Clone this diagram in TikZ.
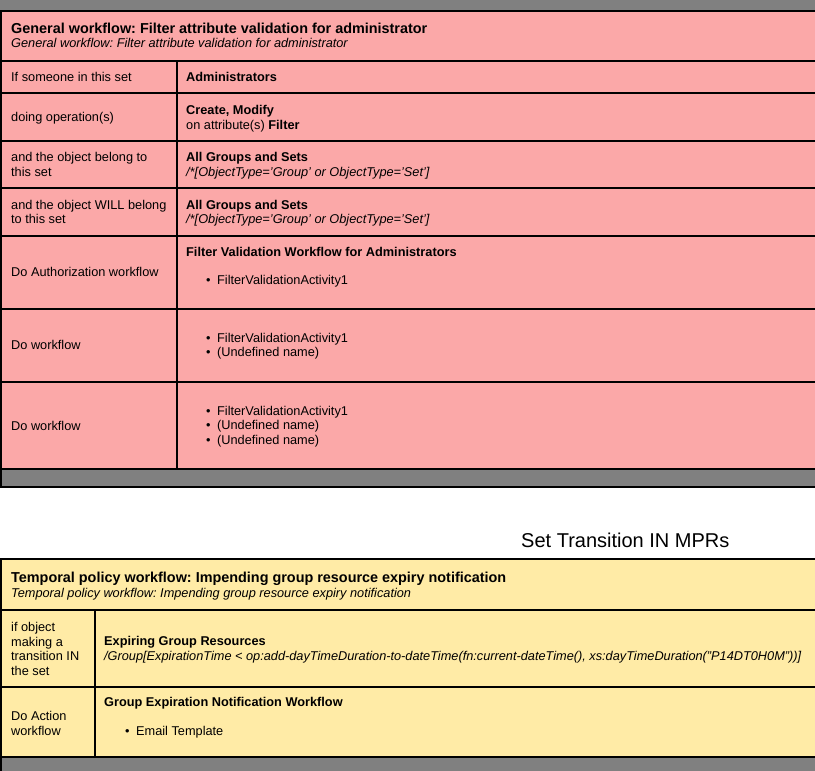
\documentclass[tikz,border=0pt]{standalone}
\usepackage{fontspec}
\setmainfont{Liberation Sans}
\usepackage{tikz}
\frenchspacing

\definecolor{policypink}{RGB}{251,168,168}
\definecolor{policyyellow}{RGB}{255,235,166}
\definecolor{bargray}{RGB}{128,128,128}

\begin{document}
\begin{tikzpicture}[x=1pt, y=-1pt,
  every node/.style={inner sep=0pt, anchor=base west, font=\fontsize{12.75}{14}\selectfont},
  hd/.style={font=\fontsize{14.4}{16}\selectfont\bfseries},
  bhd/.style={font=\fontsize{12.75}{14}\selectfont\bfseries},
  sub/.style={font=\fontsize{12.75}{14}\selectfont\itshape},
  rule/.style={line width=2pt}]
  \useasboundingbox (0,0) rectangle (815,771);
  \clip (0,0) rectangle (815,771);

  % Upper table: fills
  \fill[policypink] (0,11) rectangle (815,469);
  \fill[bargray] (0,0) rectangle (815,11);
  \fill[bargray] (0,469) rectangle (815,487);

  % Upper table: rules
  \foreach \y in {11,61,92.5,140.5,188,236,309,382,469,487}
    \draw[rule] (0,\y) -- (815,\y);
  \draw[rule] (1,10) -- (1,488);
  \draw[rule] (177,61) -- (177,469);

  % Upper table: texts
  \node[hd] (gtitle) at (11,33) {General workflow: Filter attribute validation for administrator};
  \node[sub] (gsub) at (11,47) {General workflow: Filter attribute validation for administrator};

  \node (someone) at (11,81.5) {If someone in this set};
  \node[bhd] (admins) at (186,81.5) {Administrators};

  \node (doing) at (11,121) {doing operation(s)};
  \node[bhd] (ops) at (186,114) {Create, Modify};
  \node (attr) at (186,129) {on attribute(s) \textbf{Filter}};

  \node (belong) at (11,161.5) {and the object belong to};
  \node (belongb) at (11,176) {this set};
  \node[bhd] (grpsa) at (186,161.5) {All Groups and Sets};
  \node[sub] (xpatha) at (186,176) {/*[ObjectType='Group' or ObjectType='Set']};

  \node (will) at (11,209) {and the object WILL belong};
  \node (willb) at (11,223.5) {to this set};
  \node[bhd] (grpsb) at (186,209) {All Groups and Sets};
  \node[sub] (xpathb) at (186,223.5) {/*[ObjectType='Group' or ObjectType='Set']};

  \node (authz) at (11,276.5) {Do Authorization workflow};
  \node[bhd] (fvw) at (186,256) {Filter Validation Workflow for Administrators};
  \node (fva) at (206,284) {\textbullet\hspace{6.5pt}FilterValidationActivity1};

  \node (wfa) at (11,349) {Do workflow};
  \node (wfai) at (206,342) {\textbullet\hspace{6.5pt}FilterValidationActivity1};
  \node (wfaii) at (206,356) {\textbullet\hspace{6.5pt}(Undefined name)};

  \node (wfb) at (11,430) {Do workflow};
  \node (wfbi) at (206,415) {\textbullet\hspace{6.5pt}FilterValidationActivity1};
  \node (wfbii) at (206,429.5) {\textbullet\hspace{6.5pt}(Undefined name)};
  \node (wfbiii) at (206,444) {\textbullet\hspace{6.5pt}(Undefined name)};

  % Heading between the tables
  \node[font=\fontsize{20}{24}\selectfont] (mprs) at (521,547) {Set Transition IN MPRs};

  % Lower table: fills
  \fill[policyyellow] (0,559) rectangle (815,757);
  \fill[bargray] (0,757) rectangle (815,771);

  % Lower table: rules
  \foreach \y in {559,610,687,757}
    \draw[rule] (0,\y) -- (815,\y);
  \draw[rule] (1,558) -- (1,771);
  \draw[rule] (95,610) -- (95,757);

  % Lower table: texts
  \node[hd] (ttitle) at (11,582) {Temporal policy workflow: Impending group resource expiry notification};
  \node[sub] (tsub) at (11,597) {Temporal policy workflow: Impending group resource expiry notification};

  \node (ifobj) at (11,631) {if object};
  \node (making) at (11,646) {making a};
  \node (trans) at (11,660.5) {transition IN};
  \node (theset) at (11,675) {the set};
  \node[bhd] (expiring) at (104,645) {Expiring Group Resources};
  \node[sub] (xpathc) at (104,660) {/Group[ExpirationTime < op:add-dayTimeDuration-to-dateTime(fn:current-dateTime(), xs:dayTimeDuration("P14DT0H0M"))]};

  \node (action) at (11,720) {Do Action};
  \node (actionb) at (11,735) {workflow};
  \node[bhd] (genw) at (104,706) {Group Expiration Notification Workflow};
  \node (email) at (125,735) {\textbullet\hspace{6.5pt}Email Template};
\end{tikzpicture}
\end{document}
